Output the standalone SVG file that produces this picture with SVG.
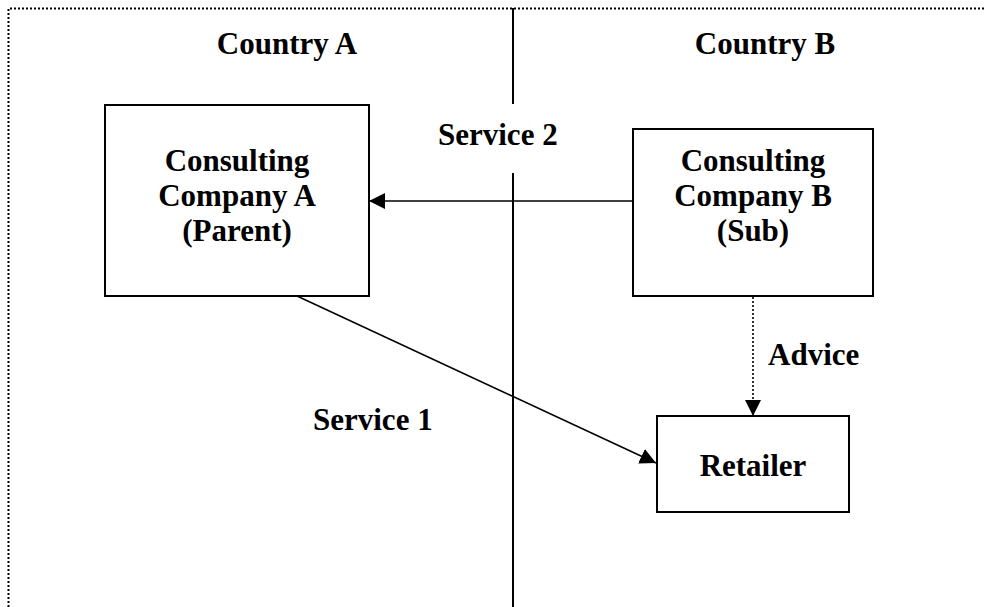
<svg xmlns="http://www.w3.org/2000/svg" width="985" height="607" viewBox="0 0 985 607">
<style>
.box{fill:#fff;stroke:#000;stroke-width:2}
.t{font-family:"Liberation Serif","Times New Roman",serif;font-weight:bold;font-size:31px;fill:#000}
.c{text-anchor:middle}
.ln{stroke:#000;stroke-width:1.6;fill:none}
</style>
<defs>
<marker id="ah" viewBox="0 0 10 10" refX="10" refY="5" markerWidth="16" markerHeight="16" markerUnits="userSpaceOnUse" orient="auto">
<path d="M0,0 L10,5 L0,10 Z" fill="#000"/>
</marker>
</defs>
<rect width="985" height="607" fill="#fff"/>
<path d="M8.5,607 V8.5 H985" fill="none" stroke="#000" stroke-width="2" stroke-dasharray="2,2"/>
<g id="divider">
<line x1="513" y1="8" x2="513" y2="104" stroke="#000" stroke-width="2"/>
<line x1="513" y1="173" x2="513" y2="607" stroke="#000" stroke-width="2"/>
</g>
<text class="t c" x="287" y="54">Country A</text>
<text class="t c" x="765" y="54">Country B</text>
<g id="connectors">
<line class="ln" x1="633" y1="201" x2="369" y2="201" marker-end="url(#ah)"/>
<line class="ln" x1="297" y1="296" x2="656" y2="463" marker-end="url(#ah)"/>
<line class="ln" x1="753" y1="297" x2="753" y2="416" stroke-dasharray="2,2" marker-end="url(#ah)"/>
<text class="t" x="438" y="145">Service 2</text>
<text class="t" x="313" y="430">Service 1</text>
<text class="t" x="768" y="365">Advice</text>
</g>
<g id="companyA">
<rect class="box" x="105" y="105" width="264" height="191"/>
<text class="t c" x="237" y="171">Consulting</text>
<text class="t c" x="237" y="206">Company A</text>
<text class="t c" x="237" y="241">(Parent)</text>
</g>
<g id="companyB">
<rect class="box" x="633" y="129" width="240" height="167"/>
<text class="t c" x="753" y="171">Consulting</text>
<text class="t c" x="753" y="206">Company B</text>
<text class="t c" x="753" y="241">(Sub)</text>
</g>
<g id="retailer">
<rect class="box" x="657" y="416" width="192" height="96"/>
<text class="t c" x="753" y="476">Retailer</text>
</g>
</svg>
